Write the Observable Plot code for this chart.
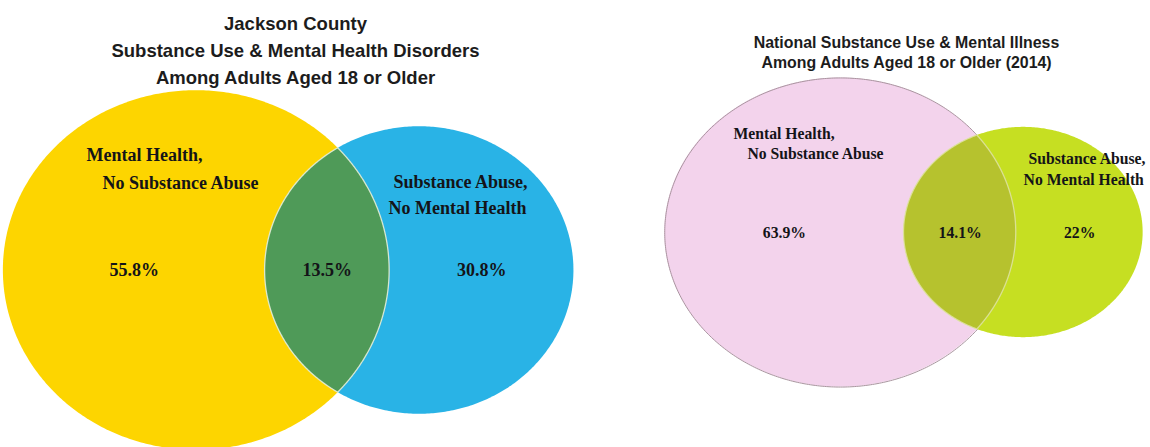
<!DOCTYPE html>
<html><head><meta charset="utf-8">
<script src="https://cdn.jsdelivr.net/npm/d3@7"></script>
<script src="https://cdn.jsdelivr.net/npm/@observablehq/plot@0.6"></script>
<style>
body{margin:0;background:#fff;}
#wrap{display:flex;width:1150px;height:447px;overflow:hidden;}
#wrap svg{display:block;}
</style></head><body><div id="wrap"></div>
<script>
// ---- Data ----
const jacksonTitle = ["Jackson County", "Substance Use & Mental Health Disorders", "Among Adults Aged 18 or Older"];
const nationalTitle = ["National Substance Use & Mental Illness", "Among Adults Aged 18 or Older (2014)"];
const setALabel = ["Mental Health,", "No Substance Abuse"];
const setBLabel = ["Substance Abuse,", "No Mental Health"];
// [only set A, both, only set B] in percent
const jacksonValues = [55.8, 13.5, 30.8];
const nationalValues = [63.9, 14.1, 22];

// ---- Layout (not data) ----
const leftCfg = {
  W: 575, H: 447, cxA: 196, cy: 270, kx: 23.2, ky: 21.6,
  colA: "#FDD500", colB: "#29B3E6", colAB: "#4F9A58",
  outline: "none", lensStroke: "#eef2dc",
  titleSize: 18.5, titleLH: 1.47, titleDx: 7.5, titleDy: 47.5,
  labelSize: 18,
  labA: [[-110, -115], [-94, -87]], labB: [[-26, -88], [-31, -62]]
};
const rightCfg = {
  W: 575, H: 447, cxA: 265, cy: 232, kx: 19.9, ky: 17.5,
  colA: "#F3D3EC", colB: "#C6DF22", colAB: "#B6C22E",
  outline: "#a9959f", lensStroke: "#dfe3a6",
  titleSize: 15.9, titleLH: 1.27, titleDx: 43.5, titleDy: 51,
  labelSize: 15.7,
  labA: [[-107, -99], [-93, -79]], labB: [[5, -74], [0, -53]]
};

function lensArea(rA, rB, d) {
  if (d >= rA + rB) return 0;
  if (d <= Math.abs(rA - rB)) return Math.PI * Math.min(rA, rB) ** 2;
  const a = rA * rA * Math.acos((d * d + rA * rA - rB * rB) / (2 * d * rA));
  const b = rB * rB * Math.acos((d * d + rB * rB - rA * rA) / (2 * d * rB));
  const c = 0.5 * Math.sqrt((-d + rA + rB) * (d + rA - rB) * (d - rA + rB) * (d + rA + rB));
  return a + b - c;
}

function venn(values, titleLines, cfg) {
  const [onlyA, both, onlyB] = values;
  const rA = Math.sqrt(onlyA + both), rB = Math.sqrt(both + onlyB);
  const target = Math.PI * both;
  let lo = Math.abs(rA - rB), hi = rA + rB;
  for (let i = 0; i < 60; i++) {
    const m = (lo + hi) / 2;
    if (lensArea(rA, rB, m) > target) lo = m; else hi = m;
  }
  const d = (lo + hi) / 2;
  const xInt = (d * d + rA * rA - rB * rB) / (2 * d);
  const N = 240;
  const disk = (cx, r) => d3.range(N + 1).map(i => {
    const t = Math.PI - Math.PI * i / N;
    return {x: cx + r * Math.cos(t), h: r * Math.sin(t)};
  });
  const ring = (cx, r) => d3.range(2 * N + 1).map(i => {
    const t = 2 * Math.PI * i / (2 * N);
    return {x: cx + r * Math.cos(t), y: r * Math.sin(t)};
  });
  const thB = Math.acos(Math.max(-1, Math.min(1, (xInt - d) / rB)));
  const thA = Math.acos(Math.max(-1, Math.min(1, xInt / rA)));
  const lens = [];
  for (let i = 0; i <= N; i++) {
    const t = Math.PI - (Math.PI - thB) * i / N;
    lens.push({x: d + rB * Math.cos(t), h: rB * Math.sin(t)});
  }
  for (let i = 1; i <= N; i++) {
    const t = thA - thA * i / N;
    lens.push({x: rA * Math.cos(t), h: rA * Math.sin(t)});
  }
  const pct = [
    {x: ((-rA) + (d - rB)) / 2, v: onlyA},
    {x: ((d - rB) + rA) / 2, v: both},
    {x: (rA + d + rB) / 2, v: onlyB}
  ];
  // label anchors: circle centre plus a pixel offset converted to scale units
  const labels = [
    ...setALabel.map((t, i) => ({x: 0 + cfg.labA[i][0] / cfg.kx, y: cfg.labA[i][1] / cfg.ky, t})),
    ...setBLabel.map((t, i) => ({x: d + cfg.labB[i][0] / cfg.kx, y: cfg.labB[i][1] / cfg.ky, t}))
  ];
  const serif = "'Liberation Serif', 'Times New Roman', serif";
  const sans = "'Liberation Sans', Arial, sans-serif";
  return Plot.plot({
    width: cfg.W, height: cfg.H,
    marginTop: 0, marginRight: 0, marginBottom: 0, marginLeft: 0,
    x: {domain: [-cfg.cxA / cfg.kx, (cfg.W - cfg.cxA) / cfg.kx], range: [0, cfg.W], axis: null},
    y: {domain: [-cfg.cy / cfg.ky, (cfg.H - cfg.cy) / cfg.ky], range: [0, cfg.H], axis: null},
    marks: [
      Plot.areaY(disk(0, rA), {x: "x", y1: p => -p.h, y2: p => p.h, fill: cfg.colA, curve: "linear"}),
      cfg.outline === "none" ? null : Plot.line(ring(0, rA), {x: "x", y: "y", stroke: cfg.outline, strokeWidth: 1, curve: "linear"}),
      Plot.areaY(disk(d, rB), {x: "x", y1: p => -p.h, y2: p => p.h, fill: cfg.colB, curve: "linear"}),
      Plot.areaY(lens, {x: "x", y1: p => -p.h, y2: p => p.h, fill: cfg.colAB, stroke: cfg.lensStroke, strokeWidth: 1.3, strokeOpacity: 0.85, curve: "linear"}),
      Plot.text(pct, {x: "x", y: 0, text: p => p.v + "%", fontSize: cfg.labelSize, fontWeight: "bold", fontFamily: serif, fill: "#141418"}),
      Plot.text(labels, {x: "x", y: "y", text: "t", textAnchor: "start", fontSize: cfg.labelSize, fontWeight: "bold", fontFamily: serif, fill: "#141418"}),
      Plot.text([titleLines.join("\n")], {frameAnchor: "top", text: t => t, dx: cfg.titleDx, dy: cfg.titleDy, lineAnchor: "middle", lineHeight: cfg.titleLH, fontSize: cfg.titleSize, fontWeight: "bold", fontFamily: sans, fill: "#1c1c1c"})
    ]
  });
}

const wrap = document.getElementById("wrap");
wrap.append(venn(jacksonValues, jacksonTitle, leftCfg));
wrap.append(venn(nationalValues, nationalTitle, rightCfg));
</script>
</body></html>
